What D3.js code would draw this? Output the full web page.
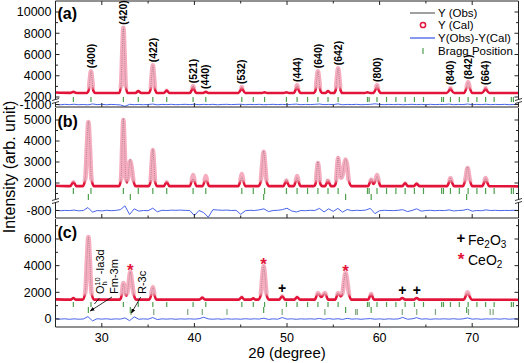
<!DOCTYPE html>
<html>
<head>
<meta charset="utf-8">
<script src="https://cdn.jsdelivr.net/npm/d3@7"></script>
<style>
  body { margin: 0; background: #fff; }
  svg { display: block; font-family: "Liberation Sans", Arial, Helvetica, sans-serif; }
</style>
</head>
<body>
<div id="plot"></div>
<script>
// ---- data: [2theta, intensity] ----
var calA = [
  [25.0,2420],[26.6,2390],[26.93,2480],[27.25,2380],
  [28.38,2380],[28.58,2625],[28.71,3645],[28.83,4420],[28.95,3645],[29.08,2625],[29.28,2380],
  [31.88,2380],[32.08,3117],[32.21,6187],[32.33,8520],[32.45,6187],[32.58,3117],[32.78,2380],
  [33.65,2380],[33.94,2560],[34.25,2380],
  [35.06,2380],[35.26,2692],[35.39,3992],[35.51,4980],[35.63,3992],[35.76,2692],[35.96,2380],
  [36.7,2380],[37.01,2620],[37.3,2380],
  [39.5,2380],[39.72,2680],[39.86,3020],[40.0,2680],[40.22,2380],
  [40.95,2380],[41.23,2480],[41.5,2380],
  [44.75,2380],[44.98,2640],[45.12,2930],[45.26,2640],[45.5,2380],
  [47.3,2380],[47.58,2440],[47.85,2380],
  [49.65,2380],[49.94,2440],[50.2,2380],
  [50.72,2380],[50.95,2730],[51.09,3120],[51.23,2730],[51.46,2380],
  [52.88,2380],[53.08,2625],[53.21,3645],[53.34,4420],[53.47,3645],[53.6,2625],[53.8,2380],
  [54.15,2380],[54.43,2560],[54.7,2380],
  [55.06,2380],[55.26,2658],[55.39,3818],[55.52,4700],[55.65,3818],[55.78,2658],[55.98,2380],
  [58.4,2380],[58.69,2440],[58.95,2380],
  [59.33,2380],[59.57,2730],[59.72,3120],[59.87,2730],[60.1,2380],
  [67.25,2380],[67.5,2600],[67.65,2840],[67.8,2600],[68.05,2380],
  [69.12,2380],[69.38,2860],[69.56,3400],[69.74,2860],[70.0,2380],
  [71.05,2380],[71.3,2600],[71.45,2840],[71.6,2600],[71.85,2380],
  [75.0,2370]
];

var calB = [
  [25.0,1870],[26.6,1850],[26.93,2050],[27.25,1850],
  [27.95,1850],[28.22,2216],[28.39,3741],[28.55,4900],[28.71,3741],[28.88,2216],[29.15,1850],
  [31.88,1850],[32.08,2228],[32.21,3803],[32.33,5000],[32.45,3803],[32.58,2300],[32.72,2020],
  [32.9,2600],[33.0,2950],[33.08,3050],[33.2,2800],[33.4,2150],[33.65,1850],
  [35.06,1850],[35.26,2056],[35.39,2916],[35.51,3570],[35.63,2916],[35.76,2056],[35.96,1850],
  [36.7,1850],[37.01,2050],[37.3,1850],
  [39.5,1850],[39.72,2130],[39.86,2380],[40.0,2130],[40.22,1850],
  [40.88,1850],[41.1,2100],[41.23,2330],[41.37,2100],[41.6,1850],
  [44.75,1850],[44.98,2150],[45.12,2430],[45.26,2150],[45.5,1850],
  [46.88,1850],[47.15,2046],[47.32,2861],[47.48,3480],[47.64,2861],[47.81,2046],[48.08,1850],
  [49.6,1850],[49.94,2100],[50.25,1850],
  [50.72,1850],[50.95,2100],[51.09,2330],[51.23,2100],[51.46,1850],
  [52.9,1850],[53.1,1990],[53.22,2530],[53.34,2950],[53.46,2530],[53.58,1990],[53.8,1850],
  [54.1,1850],[54.43,2100],[54.75,1850],
  [55.1,1850],[55.28,2010],[55.4,2680],[55.52,3190],[55.66,2700],[55.85,2250],[56.0,2400],
  [56.17,2850],[56.33,3120],[56.49,2850],[56.66,2150],[56.95,1850],
  [58.75,1850],[59.09,2150],[59.35,1950],[59.55,2130],[59.72,2380],[59.88,2130],[60.1,1850],
  [62.45,1850],[62.76,2000],[63.05,1850],
  [63.7,1850],[64.0,1970],[64.3,1850],
  [67.28,1850],[67.5,2050],[67.65,2240],[67.8,2050],[68.05,1850],
  [69.0,1850],[69.28,2200],[69.5,2710],[69.72,2200],[70.0,1850],
  [71.08,1850],[71.3,2050],[71.45,2240],[71.6,2050],[71.85,1850],
  [75.0,1840]
];

var obsB = [
  [25.0,1880],[26.6,1850],[26.93,2070],[27.25,1850],
  [27.95,1850],[28.22,2250],[28.39,3780],[28.55,4950],[28.71,3700],[28.88,2180],[29.15,1850],
  [31.88,1850],[32.08,2250],[32.21,3900],[32.33,5080],[32.45,3850],[32.58,2250],[32.72,1950],
  [32.9,2550],[33.0,3000],[33.08,3150],[33.2,2850],[33.4,2100],[33.65,1850],
  [35.06,1850],[35.26,2080],[35.39,2980],[35.51,3620],[35.63,2950],[35.76,2040],[35.96,1850],
  [36.7,1850],[37.01,2060],[37.3,1850],
  [39.5,1850],[39.72,2050],[39.86,2200],[40.0,2000],[40.22,1850],
  [40.88,1850],[41.1,1980],[41.23,2120],[41.37,2000],[41.6,1850],
  [44.75,1850],[44.98,2080],[45.12,2300],[45.26,2080],[45.5,1850],
  [46.88,1850],[47.15,2060],[47.32,2900],[47.48,3520],[47.64,2880],[47.81,2030],[48.08,1850],
  [49.6,1850],[49.94,2220],[50.25,1850],
  [50.72,1850],[50.95,2080],[51.09,2280],[51.23,2060],[51.46,1850],
  [52.9,1850],[53.1,2010],[53.22,2580],[53.34,3020],[53.46,2560],[53.58,1980],[53.8,1850],
  [54.1,1850],[54.3,2180],[54.5,2120],[54.75,1850],
  [55.1,1850],[55.28,2030],[55.4,2720],[55.52,3260],[55.66,2700],[55.85,2220],[56.0,2380],
  [56.17,2880],[56.33,3150],[56.49,2850],[56.66,2130],[56.95,1850],
  [58.75,1850],[59.09,2230],[59.35,1950],[59.55,2100],[59.72,2320],[59.88,2100],[60.1,1850],
  [62.45,1850],[62.76,2060],[63.05,1850],
  [63.7,1850],[64.0,2040],[64.3,1850],
  [67.28,1850],[67.5,2060],[67.65,2260],[67.8,2040],[68.05,1850],
  [69.0,1850],[69.28,2220],[69.5,2760],[69.72,2200],[70.0,1850],
  [71.08,1850],[71.3,2060],[71.45,2250],[71.6,2040],[71.85,1850],
  [75.0,1850]
];

var calC = [
  [25.0,1470],[26.65,1450],[26.93,1580],[27.2,1450],
  [27.95,1450],[28.22,2014],[28.39,4364],[28.55,6150],[28.71,4364],[28.88,2014],[29.15,1450],
  [31.95,1450],[32.15,1800],[32.33,2700],[32.5,2000],[32.68,1750],[32.9,2700],[33.08,3520],
  [33.25,2800],[33.45,1850],[33.7,1450],
  [35.12,1450],[35.33,1800],[35.51,2400],[35.69,1800],[35.9,1450],
  [40.55,1450],[40.85,1600],[41.15,1450],
  [44.8,1450],[45.12,1650],[45.4,1450],
  [46.1,1450],[46.36,1550],[46.6,1450],
  [46.88,1450],[47.15,1754],[47.32,3019],[47.48,3980],[47.64,3019],[47.81,1754],[48.08,1450],
  [49.15,1450],[49.48,1730],[49.8,1450],
  [50.8,1450],[51.09,1650],[51.4,1450],
  [53.0,1450],[53.34,1950],[53.7,1650],[54.1,1950],[54.45,1450],
  [55.2,1450],[55.52,1950],[55.8,1700],[55.95,1800],[56.17,2900],[56.33,3450],[56.49,2900],
  [56.7,1850],[56.95,1450],
  [58.75,1450],[59.09,1880],[59.4,1450],
  [62.15,1450],[62.45,1580],[62.75,1450],
  [63.7,1450],[64.0,1580],[64.3,1450],
  [69.1,1450],[69.32,1750],[69.5,2000],[69.68,1750],[69.95,1450],
  [75.0,1440]
];

// Y(Obs)-Y(Cal), one value every 0.5 degree from 25 to 75
var diffStep = 0.5;
var diffA = [
  -990,-1030,-985,-1015,-975,-1020,-1000,-1030,-950,-1010,
  -985,-1025,-990,-1010,-1040,-1170,-985,-1015,-995,-1020,
  -1000,-960,-1030,-990,-1010,-985,-1020,-1000,-985,-1010,
  -975,-1015,-990,-1010,-985,-1025,-995,-985,-1010,-990,
  -975,-1020,-990,-1010,-985,-1020,-1000,-985,-1010,-990,
  -1015,-990,-965,-1015,-990,-1010,-985,-955,-1015,-990,
  -1010,-945,-1025,-990,-1010,-985,-1020,-1000,-985,-935,
  -990,-1015,-990,-1010,-985,-1020,-1000,-985,-1010,-990,
  -1015,-985,-1010,-990,-1000,-965,-1015,-990,-1010,-955,
  -1015,-990,-1010,-975,-1015,-990,-1010,-985,-1015,-1000,
  -990
];
var diffB = [
  -790,-810,-795,-805,-780,-815,-800,-660,-880,-800,
  -820,-790,-810,-795,-760,-580,-990,-720,-830,-800,
  -810,-690,-860,-790,-800,-785,-790,-780,-795,-800,
  -1040,-800,-900,-1120,-760,-775,-790,-780,-800,-790,
  -980,-810,-790,-800,-770,-720,-850,-800,-790,-760,
  -690,-820,-870,-800,-810,-790,-800,-700,-870,-720,
  -840,-700,-880,-750,-810,-790,-800,-780,-700,-950,
  -810,-790,-800,-805,-790,-760,-850,-800,-720,-830,
  -800,-790,-810,-795,-805,-770,-820,-800,-790,-740,
  -830,-800,-810,-770,-800,-790,-805,-795,-800,-790,
  -800
];
var diffC = [
  20,-10,15,-20,10,-15,0,180,-140,20,
  -10,15,-20,10,-10,80,-120,160,-20,10,
  -15,110,-40,10,-10,15,-20,10,-5,15,
  -10,20,130,10,-15,10,-20,15,-10,5,
  -15,20,-10,15,-5,60,-30,10,-15,110,
  -10,15,-20,10,-5,15,-10,40,-20,30,
  -15,20,-30,50,-10,15,-20,10,30,-15,
  10,-20,15,-10,5,120,-15,10,100,-10,
  15,-20,10,-5,15,-10,20,-15,10,80,
  -10,15,-20,10,-5,15,-10,20,-15,10,
  0
];

// Bragg positions (2theta)
var garnetPos = [26.93,28.83,32.33,33.94,35.51,37.01,39.86,41.23,45.12,46.36,47.58,49.94,51.09,52.22,
  53.34,54.43,55.52,58.69,59.72,60.75,61.76,62.76,63.76,64.74,66.70,67.65,68.61,69.56,70.51,71.45,72.37,74.23];
var garnetK2 = [58.87,66.90,74.45];
var ceo2Pos = [28.55,33.08,47.48,56.33,59.09,69.40];
var fe2o3Pos = [33.15,35.61,39.28,40.85,43.52,49.48,54.09,57.42,57.59,62.45,64.01,66.03,69.60,71.94,72.26];

// (hkl) labels of panel (a): [text, 2theta, peak intensity]
var labelsA = [["(400)",28.83,4420],["(420)",32.33,8520],["(422)",35.51,4980],["(521)",39.86,3020],
  ["(440)",41.23,2480],["(532)",45.12,2930],["(444)",51.09,3120],["(640)",53.34,4420],["(642)",55.52,4700],
  ["(800)",59.72,3120],["(840)",67.65,2840],["(842)",69.56,3400],["(664)",71.45,2840]];

// impurity marks of panel (c): [2theta, peak intensity]
var ceMarks = [[33.08,3520],[47.48,3980],[56.33,3450]];
var feMarks = [[49.48,1730],[62.45,1580],[64.01,1580]];

var xTicks = [30,40,50,60,70];
var xMinor = [25,35,45,55,65,75];

// ---- layout ----
var width = 524, height = 363;
var L = 55.5, R = 518.5;
var red = "#e2143a", pink = "#f6adc0", blue = "#3452e6", green = "#4f9f4f", ink = "#222";

var svg = d3.select("#plot").append("svg").attr("width", width).attr("height", height);
var defs = svg.append("defs");

var x = d3.scaleLinear().domain([25, 75]).range([L, R]);

var yA = d3.scaleLinear().domain([2000, 10000]).range([97, 12]);
var yA2 = d3.scaleLinear().domain([-1000, 0]).range([104.5, 104.5 - 10.6]);
var yB = d3.scaleLinear().domain([2000, 5000]).range([183, 120]);
var yB2 = d3.scaleLinear().domain([-800, 0]).range([210.5, 210.5 - 16.8]);
var yC = d3.scaleLinear().domain([0, 6000]).range([319, 239]);

var panels = [
  { key: "a", label: "(a)", labelY: 19, top: 1, brk: 101, bottom: 107, y: yA, y2: yA2,
    cal: calA, obs: calA, diff: diffA, base: 2380,
    yTicks: [2000, 4000, 6000, 8000, 10000], yMinor: [3000, 5000, 7000, 9000], lowTicks: [-1000],
    rows: [{ pos: garnetPos.concat(garnetK2), top: 97, bot: 102, color: green }] },
  { key: "b", label: "(b)", labelY: 127, top: 108, brk: 201, bottom: 218, y: yB, y2: yB2,
    cal: calB, obs: obsB, diff: diffB, base: 1850,
    yTicks: [2000, 3000, 4000, 5000], yMinor: [1500, 2500, 3500, 4500], lowTicks: [-800],
    rows: [{ pos: garnetPos.concat(garnetK2), top: 188, bot: 194, color: green },
           { pos: ceo2Pos, top: 194, bot: 200, color: green }] },
  { key: "c", label: "(c)", labelY: 238, top: 219, brk: null, bottom: 327, y: yC, y2: yC,
    cal: calC, obs: calC, diff: diffC, base: 1450,
    yTicks: [0, 2000, 4000, 6000], yMinor: [1000, 3000, 5000, 7000], lowTicks: [],
    rows: [{ pos: garnetPos.concat(garnetK2), top: 302, bot: 307, color: green },
           { pos: ceo2Pos, top: 307, bot: 313, color: green },
           { pos: fe2o3Pos, top: 309, bot: 315, color: "#7da77d" }] }
];

function vgrad(id, y1, y2, c1, o1, c2, o2) {
  var gr = defs.append("linearGradient").attr("id", id)
    .attr("gradientUnits", "userSpaceOnUse")
    .attr("x1", 0).attr("x2", 0).attr("y1", y1).attr("y2", y2);
  gr.append("stop").attr("offset", 0).attr("stop-color", c1).attr("stop-opacity", o1);
  gr.append("stop").attr("offset", 1).attr("stop-color", c2).attr("stop-opacity", o2);
}

defs.append("marker").attr("id", "arr")
  .attr("viewBox", "0 0 10 10").attr("refX", 9).attr("refY", 5)
  .attr("markerWidth", 6).attr("markerHeight", 6).attr("orient", "auto")
  .append("path").attr("d", "M0,1L10,5L0,9z").attr("fill", "#000");

function drawPanel(p) {
  var g = svg.append("g").attr("class", "panel-" + p.key);
  var basePx = p.y(p.base);

  vgrad("pk" + p.key, basePx - 7, basePx - 3, pink, 1, pink, 0);
  vgrad("rd" + p.key, basePx - 7, basePx - 3, red, 0, red, 1);
  vgrad("ob" + p.key, basePx - 6, basePx - 3, "#444", 0.6, "#444", 0);

  var line = d3.line()
    .x(function(d) { return x(d[0]); })
    .y(function(d) { return p.y(d[1]); })
    .curve(d3.curveMonotoneX);

  // Y (Cal): pink band on the peaks, red along the background
  g.append("path").datum(p.cal).attr("d", line)
    .attr("fill", "none").attr("stroke", "url(#pk" + p.key + ")").attr("stroke-width", 4.6);
  g.append("path").datum(p.cal).attr("d", line)
    .attr("fill", "none").attr("stroke", "url(#rd" + p.key + ")").attr("stroke-width", 2.6);
  // Y (Obs)
  g.append("path").datum(p.obs).attr("d", line)
    .attr("fill", "none").attr("stroke", "url(#ob" + p.key + ")").attr("stroke-width", 0.6)
    .attr("stroke-dasharray", "1,1");

  // Y(Obs)-Y(Cal)
  var dline = d3.line()
    .x(function(d, i) { return x(25 + i * diffStep); })
    .y(function(d) { return p.y2(d); });
  g.append("path").datum(p.diff).attr("d", dline)
    .attr("fill", "none").attr("stroke", blue).attr("stroke-width", 0.9);

  // Bragg positions
  p.rows.forEach(function(row) {
    g.selectAll(null).data(row.pos.filter(function(d) { return d > 25 && d < 75; }))
      .enter().append("line")
      .attr("x1", function(d) { return x(d); }).attr("x2", function(d) { return x(d); })
      .attr("y1", row.top).attr("y2", row.bot)
      .attr("stroke", row.color).attr("stroke-width", 1.2);
  });

  // frame
  var ax = g.append("g").attr("stroke", ink).attr("stroke-width", 1).attr("fill", "none");
  ax.append("line").attr("x1", L).attr("x2", L).attr("y1", p.top).attr("y2", p.bottom);
  ax.append("line").attr("x1", R).attr("x2", R).attr("y1", p.top).attr("y2", p.bottom);
  ax.append("line").attr("x1", L).attr("x2", R).attr("y1", p.bottom).attr("y2", p.bottom);
  if (p.key === "a") ax.append("line").attr("x1", L).attr("x2", R).attr("y1", p.top).attr("y2", p.top);

  // x ticks (inward)
  xTicks.forEach(function(t) {
    ax.append("line").attr("x1", x(t)).attr("x2", x(t)).attr("y1", p.bottom).attr("y2", p.bottom - 4);
    if (p.key === "a") ax.append("line").attr("x1", x(t)).attr("x2", x(t)).attr("y1", p.top).attr("y2", p.top + 4);
  });
  xMinor.forEach(function(t) {
    ax.append("line").attr("x1", x(t)).attr("x2", x(t)).attr("y1", p.bottom).attr("y2", p.bottom - 2.5);
    if (p.key === "a") ax.append("line").attr("x1", x(t)).attr("x2", x(t)).attr("y1", p.top).attr("y2", p.top + 2.5);
  });

  // y ticks on both sides
  function yt(py, len) {
    ax.append("line").attr("x1", L).attr("x2", L + len).attr("y1", py).attr("y2", py);
    ax.append("line").attr("x1", R).attr("x2", R - len).attr("y1", py).attr("y2", py);
  }
  p.yTicks.forEach(function(t) { yt(p.y(t), 4); });
  p.yMinor.forEach(function(t) { yt(p.y(t), 2.5); });
  p.lowTicks.forEach(function(t) { yt(p.y2(t), 4); });

  var labs = g.append("g").attr("font-size", "12.5px").attr("fill", "#000").attr("text-anchor", "end");
  p.yTicks.forEach(function(t) {
    labs.append("text").attr("x", L - 4).attr("y", p.y(t)).attr("dy", ".35em").text(t);
  });
  p.lowTicks.forEach(function(t) {
    labs.append("text").attr("x", L - 4).attr("y", p.y2(t)).attr("dy", ".35em").text(t);
  });

  // axis break marks
  if (p.brk) {
    [L, R].forEach(function(bx) {
      g.append("rect").attr("x", bx - 3).attr("y", p.brk - 1.5).attr("width", 6).attr("height", 3).attr("fill", "#fff");
      g.append("line").attr("x1", bx - 3.5).attr("x2", bx + 3.5).attr("y1", p.brk - 0.5).attr("y2", p.brk - 2.5)
        .attr("stroke", ink).attr("stroke-width", 0.9);
      g.append("line").attr("x1", bx - 3.5).attr("x2", bx + 3.5).attr("y1", p.brk + 2.5).attr("y2", p.brk + 0.5)
        .attr("stroke", ink).attr("stroke-width", 0.9);
    });
  }

  g.append("text").attr("x", L + 2).attr("y", p.labelY)
    .attr("font-size", "16px").attr("font-weight", "bold").text(p.label);
}

panels.forEach(drawPanel);

// (hkl) labels in (a)
svg.append("g").selectAll("text").data(labelsA).enter().append("text")
  .attr("transform", function(d) { return "translate(" + x(d[1]) + "," + (yA(d[2]) - 3) + ") rotate(-90)"; })
  .attr("dy", ".35em").attr("font-size", "10.5px").attr("font-weight", "bold")
  .text(function(d) { return d[0]; });

// markers in (c)
svg.append("g").selectAll("text").data(ceMarks).enter().append("text")
  .attr("x", function(d) { return x(d[0]); }).attr("y", function(d) { return yC(d[1]) + 4; })
  .attr("text-anchor", "middle").attr("font-size", "17px").attr("font-weight", "bold")
  .attr("fill", red).text("*");
svg.append("g").selectAll("text").data(feMarks).enter().append("text")
  .attr("x", function(d) { return x(d[0]); }).attr("y", function(d) { return yC(d[1]) - 3; })
  .attr("text-anchor", "middle").attr("font-size", "14px").attr("font-weight", "bold")
  .attr("fill", "#000").text("+");

// space group annotations in (c)
var ann = svg.append("g").attr("font-size", "11px");
var oh = ann.append("text").attr("transform", "translate(" + (x(29.82)) + ",294) rotate(-90)").attr("dy", ".35em");
oh.append("tspan").text("O");
oh.append("tspan").attr("font-size", "7.5px").attr("dy", 3).text("h");
oh.append("tspan").attr("font-size", "7.5px").attr("dx", -4.5).attr("dy", -7).text("10");
oh.append("tspan").attr("dy", 4).text(" -Ia3d");
ann.append("text").attr("transform", "translate(" + x(31.3) + ",294) rotate(-90)").attr("dy", ".35em").text("Fm-3m");
ann.append("text").attr("transform", "translate(" + x(34.35) + ",294) rotate(-90)").attr("dy", ".35em").text("R-3c");
ann.append("line").attr("x1", x(29.75)).attr("y1", 298).attr("x2", x(29.2)).attr("y2", 304)
  .attr("stroke", "#000").attr("stroke-width", 0.8);
ann.append("line").attr("x1", x(31.1)).attr("y1", 297).attr("x2", x(28.75)).attr("y2", 311)
  .attr("stroke", "#000").attr("stroke-width", 0.8).attr("marker-end", "url(#arr)");
ann.append("line").attr("x1", x(34.2)).attr("y1", 297).attr("x2", x(33.2)).attr("y2", 313)
  .attr("stroke", "#000").attr("stroke-width", 0.8).attr("marker-end", "url(#arr)");

// x axis labels
var xl = svg.append("g").attr("font-size", "12.5px").attr("text-anchor", "middle");
xTicks.forEach(function(t) { xl.append("text").attr("x", x(t)).attr("y", 341.5).text(t); });
svg.append("text").attr("x", x(50)).attr("y", 358).attr("text-anchor", "middle")
  .attr("font-size", "15px").text("2\u03b8 (degree)");
svg.append("text").attr("transform", "translate(15,167) rotate(-90)").attr("text-anchor", "middle")
  .attr("font-size", "16px").text("Intensity (arb. unit)");

// legend (a)
var lg = svg.append("g").attr("font-size", "11.5px");
lg.append("line").attr("x1", 410).attr("x2", 435).attr("y1", 13).attr("y2", 13).attr("stroke", "#a0a0a0").attr("stroke-width", 2);
lg.append("text").attr("x", 438).attr("y", 13).attr("dy", ".35em").text("Y (Obs)");
lg.append("circle").attr("cx", 423).attr("cy", 25).attr("r", 2.6).attr("fill", "none").attr("stroke", red).attr("stroke-width", 1.5);
lg.append("text").attr("x", 438).attr("y", 25).attr("dy", ".35em").text("Y (Cal)");
lg.append("line").attr("x1", 410).attr("x2", 435).attr("y1", 38).attr("y2", 38).attr("stroke", blue).attr("stroke-width", 1.2);
lg.append("text").attr("x", 438).attr("y", 38).attr("dy", ".35em").text("Y(Obs)-Y(Cal)");
lg.append("line").attr("x1", 423).attr("x2", 423).attr("y1", 48).attr("y2", 54).attr("stroke", green).attr("stroke-width", 1.2);
lg.append("text").attr("x", 438).attr("y", 51).attr("dy", ".35em").text("Bragg Position");

// legend (c)
var lc = svg.append("g").attr("font-size", "14px");
lc.append("text").attr("x", 461).attr("y", 243).attr("text-anchor", "middle").attr("font-weight", "bold").attr("font-size", "15px").text("+");
var fe = lc.append("text").attr("x", 468).attr("y", 245);
fe.append("tspan").text("Fe");
fe.append("tspan").attr("font-size", "10px").attr("dy", 3).text("2");
fe.append("tspan").attr("dy", -3).text("O");
fe.append("tspan").attr("font-size", "10px").attr("dy", 3).text("3");
lc.append("text").attr("x", 461).attr("y", 265).attr("text-anchor", "middle").attr("font-weight", "bold").attr("font-size", "17px").attr("fill", red).text("*");
var ce = lc.append("text").attr("x", 468).attr("y", 265);
ce.append("tspan").text("CeO");
ce.append("tspan").attr("font-size", "10px").attr("dy", 3).text("2");
</script>
</body>
</html>
